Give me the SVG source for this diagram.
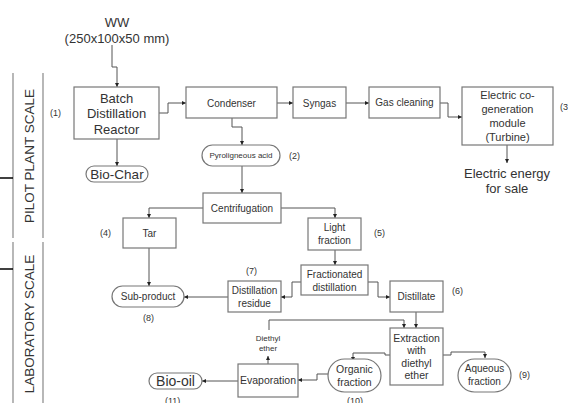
<svg xmlns="http://www.w3.org/2000/svg" width="568" height="403" viewBox="0 0 568 403">
<defs>
<style>
text{font-family:"Liberation Sans",Arial,sans-serif;fill:#333;text-anchor:middle;dominant-baseline:central}
.box{fill:#fff;stroke:#777;stroke-width:1.2}
.ln{fill:none;stroke:#555;stroke-width:1}
.f10{font-size:10px}
.f8{font-size:8px}
.f9{font-size:9px}
.f13{font-size:13px}
.lab{font-size:9px;text-anchor:start}
.side{font-size:13.5px}
.sep{stroke:#888;stroke-width:1.2}
</style>
<marker id="a" viewBox="0 0 6 6" refX="6" refY="3" markerWidth="4" markerHeight="4" markerUnits="userSpaceOnUse" orient="auto"><path d="M0,0L6,3L0,6z" fill="#222"/></marker>
</defs>
<rect width="568" height="403" fill="#fff"/>

<g id="side">
<line class="sep" x1="13" y1="73" x2="13" y2="238"/>
<line class="sep" x1="43" y1="73" x2="43" y2="238"/>
<line class="sep" x1="13" y1="242" x2="13" y2="403"/>
<line class="sep" x1="43" y1="242" x2="43" y2="403"/>
<line x1="0" y1="178" x2="13" y2="178" stroke="#000" stroke-width="1.5"/>
<line x1="0" y1="269" x2="13" y2="269" stroke="#000" stroke-width="1.5"/>
<text class="side" transform="translate(29,156) rotate(-90)">PILOT PLANT SCALE</text>
<text class="side" transform="translate(29,324) rotate(-90)">LABORATORY SCALE</text>
</g>

<g id="connectors">
<path class="ln" marker-end="url(#a)" d="M112,45V67H117V87"/>
<path class="ln" marker-end="url(#a)" d="M159,113H168V103H186"/>
<path class="ln" marker-end="url(#a)" d="M117,139V166"/>
<path class="ln" marker-end="url(#a)" d="M277,103H293"/>
<path class="ln" marker-end="url(#a)" d="M346,103H369"/>
<path class="ln" marker-end="url(#a)" d="M440,103H448V117H462"/>
<path class="ln" marker-end="url(#a)" d="M507,145V163"/>
<path class="ln" marker-end="url(#a)" d="M232,118V127H242V145"/>
<path class="ln" marker-end="url(#a)" d="M242,166V193"/>
<path class="ln" marker-end="url(#a)" d="M203,208H149V218"/>
<path class="ln" marker-end="url(#a)" d="M281,208H335V218"/>
<path class="ln" marker-end="url(#a)" d="M149,248V286"/>
<path class="ln" marker-end="url(#a)" d="M335,250V265"/>
<path class="ln" marker-end="url(#a)" d="M301,282H292V297H281"/>
<path class="ln" marker-end="url(#a)" d="M368,282H378V297H390"/>
<path class="ln" marker-end="url(#a)" d="M228,297H184"/>
<path class="ln" marker-end="url(#a)" d="M416,312V328"/>
<path class="ln" marker-end="url(#a)" d="M269,330V320H404V328"/>
<path class="ln" marker-end="url(#a)" d="M268,364V356"/>
<path class="ln" marker-end="url(#a)" d="M390,355H385V353H353V361"/>
<path class="ln" marker-end="url(#a)" d="M443,355H451V352H485V358"/>
<path class="ln" marker-end="url(#a)" d="M328,374H317V380H298"/>
<path class="ln" marker-end="url(#a)" d="M238,381H202"/>
</g>

<g id="ww">
<text class="f13" x="117" y="22">WW</text>
<text class="f13" x="117" y="38">(250x100x50 mm)</text>
</g>

<g id="reactor">
<rect class="box" x="74" y="87" width="85" height="52"/>
<text class="f13" x="116.5" y="98">Batch</text>
<text class="f13" x="116.5" y="113">Distillation</text>
<text class="f13" x="116.5" y="129">Reactor</text>
<text class="lab" x="50" y="113">(1)</text>
</g>

<g id="condenser">
<rect class="box" x="186" y="87" width="91" height="31"/>
<text class="f10" x="231.5" y="103">Condenser</text>
</g>

<g id="syngas">
<rect class="box" x="293" y="87" width="53" height="31"/>
<text class="f10" x="319.5" y="103">Syngas</text>
</g>

<g id="gascleaning">
<rect class="box" x="369" y="87" width="71" height="31"/>
<text class="f10" x="404.5" y="102">Gas cleaning</text>
</g>

<g id="cogen">
<rect class="box" x="462" y="87" width="91" height="58"/>
<text style="font-size:11px" x="507.5" y="95">Electric co-</text>
<text style="font-size:11px" x="507.5" y="109">generation</text>
<text style="font-size:11px" x="507.5" y="123">module</text>
<text style="font-size:11px" x="507.5" y="137">(Turbine)</text>
<text class="lab" x="560" y="107">(3)</text>
</g>

<g id="energy">
<text class="f13" x="507" y="173">Electric energy</text>
<text class="f13" x="507" y="188">for sale</text>
</g>

<g id="biochar">
<rect class="box" x="86" y="166" width="62" height="16" rx="8"/>
<text style="font-size:13.5px" x="117" y="174">Bio-Char</text>
</g>

<g id="pyro">
<rect class="box" x="202" y="145" width="78" height="21" rx="10.5"/>
<text class="f8" x="241" y="155.5">Pyroligneous acid</text>
<text class="lab" x="289" y="156">(2)</text>
</g>

<g id="centrifugation">
<rect class="box" x="203" y="193" width="78" height="30"/>
<text class="f10" x="242" y="208">Centrifugation</text>
</g>

<g id="tar">
<rect class="box" x="123" y="218" width="53" height="30"/>
<text class="f10" x="149.5" y="233">Tar</text>
<text class="lab" x="100" y="233">(4)</text>
</g>

<g id="light">
<rect class="box" x="308" y="218" width="53" height="32"/>
<text class="f10" x="334.5" y="227">Light</text>
<text class="f10" x="334.5" y="240">fraction</text>
<text class="lab" x="374" y="233">(5)</text>
</g>

<g id="fractionated">
<rect class="box" x="301" y="265" width="67" height="30"/>
<text class="f10" x="334.5" y="274">Fractionated</text>
<text class="f10" x="334.5" y="287">distillation</text>
</g>

<g id="distillate">
<rect class="box" x="390" y="281" width="53" height="31"/>
<text class="f10" x="416.5" y="296">Distillate</text>
<text class="lab" x="452" y="291">(6)</text>
</g>

<g id="residue">
<rect class="box" x="228" y="281" width="53" height="31"/>
<text class="f10" x="254.5" y="290">Distillation</text>
<text class="f10" x="254.5" y="303">residue</text>
<text class="lab" x="246" y="271">(7)</text>
</g>

<g id="subproduct">
<rect class="box" x="112" y="286" width="72" height="21" rx="10.5"/>
<text class="f10" x="148" y="296.5">Sub-product</text>
<text class="lab" x="143" y="318">(8)</text>
</g>

<g id="extraction">
<rect class="box" x="390" y="328" width="53" height="57"/>
<text style="font-size:10.5px" x="416.5" y="338">Extraction</text>
<text style="font-size:10.5px" x="416.5" y="350">with</text>
<text style="font-size:10.5px" x="416.5" y="363">diethyl</text>
<text style="font-size:10.5px" x="416.5" y="375">ether</text>
</g>

<g id="diethyl">
<text class="f8" x="268" y="338">Diethyl</text>
<text class="f8" x="268" y="348">ether</text>
</g>

<g id="evaporation">
<rect class="box" x="238" y="364" width="60" height="33"/>
<text style="font-size:10.5px" x="268" y="380">Evaporation</text>
</g>

<g id="organic">
<rect class="box" x="328" y="359" width="53" height="33" rx="16.5"/>
<text style="font-size:10.5px" x="354.5" y="369">Organic</text>
<text style="font-size:10.5px" x="354.5" y="382">fraction</text>
<text class="lab" x="347" y="401">(10)</text>
</g>

<g id="aqueous">
<rect class="box" x="458" y="359" width="53" height="33" rx="16.5"/>
<text class="f10" x="484.5" y="368">Aqueous</text>
<text class="f10" x="484.5" y="381">fraction</text>
<text class="lab" x="519" y="375">(9)</text>
</g>

<g id="biooil">
<rect class="box" x="149" y="373" width="53" height="16" rx="8"/>
<text style="font-size:14px" x="175.5" y="381">Bio-oil</text>
<text class="lab" x="165" y="401">(11)</text>
</g>
</svg>
